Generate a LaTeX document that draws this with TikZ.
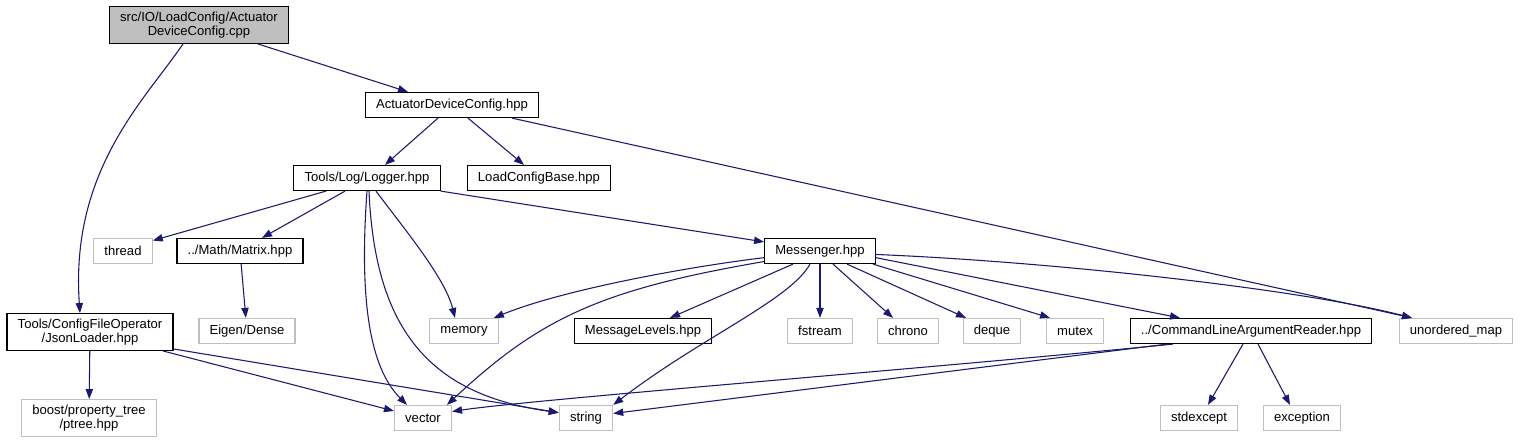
\documentclass[tikz,border=0pt]{standalone}
\usepackage{fontspec}
\setmainfont{Liberation Sans}
\usetikzlibrary{arrows.meta}

\definecolor{edgeblue}{RGB}{25,25,112}
\definecolor{greyline}{RGB}{191,191,191}

\tikzset{
  filebox/.style={draw=black,fill=white,line width=0.9pt,align=center,
    font=\fontsize{9.8}{10}\selectfont,inner xsep=8pt,inner ysep=4.2pt,
    minimum height=18.75pt},
  syshdr/.style={filebox,draw=greyline},
  rootfile/.style={filebox,fill=greyline},
  dep/.style={edgeblue,line width=0.8pt,-{Triangle[length=7.5pt,width=5.5pt]}}
}

\begin{document}
\begin{tikzpicture}[x=0.75pt,y=-0.75pt]
  \useasboundingbox (0,0) rectangle (1519,443);

  % files
  \node[rootfile] (src) at (199,25) {src/IO/LoadConfig/Actuator\\DeviceConfig.cpp};
  \node[filebox] (adc) at (452,105) {ActuatorDeviceConfig.hpp};
  \node[filebox] (logger) at (367,178) {Tools/Log/Logger.hpp};
  \node[filebox] (lcb) at (539,178) {LoadConfigBase.hpp};
  \node[syshdr] (thread) at (123,251) {thread};
  \node[filebox] (matrix) at (240,251) {../Math/Matrix.hpp};
  \node[filebox] (msg) at (820,251) {Messenger.hpp};
  \node[filebox] (jsonl) at (90,332) {Tools/ConfigFileOperator\\/JsonLoader.hpp};
  \node[syshdr] (eigen) at (247,331) {Eigen/Dense};
  \node[syshdr] (memory) at (464,331) {memory};
  \node[filebox] (msglev) at (643,331) {MessageLevels.hpp};
  \node[syshdr] (fstream) at (820,331) {fstream};
  \node[syshdr] (chrono) at (908,331) {chrono};
  \node[syshdr] (deque) at (992,331) {deque};
  \node[syshdr] (mutex) at (1075,331) {mutex};
  \node[filebox] (clar) at (1251,331) {../CommandLineArgumentReader.hpp};
  \node[syshdr] (umap) at (1456,331) {unordered\_map};
  \node[syshdr] (boost) at (89,418) {boost/property\_tree\\/ptree.hpp};
  \node[syshdr] (vector) at (423,418) {vector};
  \node[syshdr] (string) at (586,418) {string};
  \node[syshdr] (stdexcept) at (1199,418) {stdexcept};
  \node[syshdr] (exception) at (1302,418) {exception};

  % includes
  \draw[dep] ([xshift=44.25pt]src.south) -- ([xshift=-33pt]adc.north);
  \draw[dep] ([xshift=-12pt]src.south) .. controls +(-38,56) and +(-10,-143) .. ([xshift=-7.5pt]jsonl.north);
  \draw[dep] ([xshift=-10.5pt]adc.south) -- ([xshift=13.5pt]logger.north);
  \draw[dep] ([xshift=12pt]adc.south) -- ([xshift=-11.25pt]lcb.north);
  \draw[dep] ([xshift=45pt]adc.south) -- ([xshift=-33pt]umap.north);

  \draw[dep] ([xshift=-30.75pt]logger.south) -- ([yshift=-2pt]thread.north east);
  \draw[dep] ([xshift=-16.5pt]logger.south) -- ([xshift=16.5pt]matrix.north);
  \draw[dep] (logger.south) .. controls +(-8,110) and +(-37,-37) .. ([xshift=-12pt]vector.north);
  \draw[dep] ([xshift=1.5pt]logger.south) .. controls +(6,140) and +(-128,-18) .. ([yshift=4pt]string.west);
  \draw[dep] ([xshift=6.75pt]logger.south) .. controls +(30,40) and +(-10,-40) .. ([xshift=-6.75pt]memory.north);
  \draw[dep] (logger.south east) -- ([yshift=-3pt]msg.north west);

  \draw[dep] (matrix) -- (eigen);
  \draw[dep] (jsonl) -- (boost);
  \draw[dep] ([xshift=54.75pt]jsonl.south) -- ([yshift=5.25pt]vector.west);
  \draw[dep] ([yshift=1.5pt]jsonl.south east) -- ([yshift=4pt]string.west);

  \draw[dep] ([yshift=-5pt]msg.west) .. controls +(-83,10) and +(66,-27) .. ([xshift=-3.75pt]memory.north east);
  \draw[dep] ([yshift=-7.9pt]msg.west) .. controls +(-163,28) and +(93,-87) .. ([xshift=18pt]vector.north);
  \draw[dep] ([xshift=-20.25pt]msg.south) -- ([xshift=20.25pt]msglev.north);
  \draw[dep] ([xshift=-7.5pt]msg.south) .. controls +(-20,36) and +(87,-67) .. (string.north east);
  \draw[dep] (msg) -- (fstream);
  \draw[dep] ([xshift=9.75pt]msg.south) -- ([xshift=-11.25pt]chrono.north);
  \draw[dep] ([xshift=20.25pt]msg.south) -- ([xshift=-19.5pt]deque.north);
  \draw[dep] ([xshift=39.75pt]msg.south) -- ([xshift=-18.75pt]mutex.north);
  \draw[dep] ([yshift=-5pt]msg.east) -- ([xshift=-53.25pt]clar.north);
  \draw[dep] ([yshift=-2.6pt]msg.east) .. controls +(173,7) and +(-112,-29) .. ([xshift=-33pt]umap.north);

  \draw[dep] ([xshift=-58.5pt]clar.south) .. controls +(-240,24) and +(80,-12) .. ([yshift=4.9pt]vector.east);
  \draw[dep] ([xshift=-63pt]clar.south) -- ([yshift=3.4pt]string.east);
  \draw[dep] ([xshift=-6pt]clar.south) -- ([xshift=6.75pt]stdexcept.north);
  \draw[dep] ([xshift=5.25pt]clar.south) -- ([xshift=-9pt]exception.north);
\end{tikzpicture}
\end{document}
